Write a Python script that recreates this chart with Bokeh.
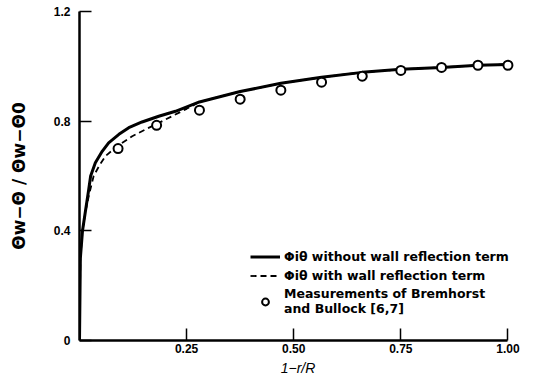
from bokeh.plotting import figure
from bokeh.models import FixedTicker, Legend, LegendItem
from bokeh.embed import file_html
from bokeh.resources import INLINE

# Solid curve: Phi without wall reflection term
solid_x = [0, 0.002, 0.007, 0.014, 0.021, 0.026, 0.037, 0.053, 0.068, 0.092, 0.115,
           0.146, 0.185, 0.224, 0.28, 0.375, 0.47, 0.565, 0.66, 0.75, 0.845, 0.93, 1.0]
solid_y = [0, 0.30, 0.40, 0.473, 0.545, 0.60, 0.648, 0.69, 0.721, 0.752, 0.776,
           0.797, 0.818, 0.836, 0.87, 0.908, 0.938, 0.96, 0.978, 0.989, 0.996, 1.004, 1.007]

# Dashed curve: Phi with wall reflection term
dash_x = [0, 0.002, 0.007, 0.014, 0.022, 0.033, 0.047, 0.061, 0.088, 0.123, 0.154, 0.178,
          0.216, 0.25, 0.28, 0.375, 0.47, 0.565, 0.66, 0.75, 0.845, 0.93, 1.0]
dash_y = [0, 0.30, 0.40, 0.47, 0.53, 0.60, 0.64, 0.673, 0.709, 0.745, 0.77, 0.788,
          0.818, 0.845, 0.87, 0.908, 0.938, 0.96, 0.978, 0.989, 0.996, 1.004, 1.007]

# Measurements of Bremhorst and Bullock
meas_x = [0.09, 0.18, 0.28, 0.375, 0.47, 0.565, 0.66, 0.75, 0.845, 0.93, 1.0]
meas_y = [0.70, 0.785, 0.84, 0.88, 0.913, 0.942, 0.964, 0.985, 0.996, 1.004, 1.004]

x_ticks = [0.25, 0.5, 0.75, 1.0]
x_tick_labels = {0.25: "0.25", 0.5: "0.50", 0.75: "0.75", 1.0: "1.00"}
y_ticks = [0, 0.4, 0.8, 1.2]
y_tick_labels = {0: "0", 0.4: "0.4", 0.8: "0.8", 1.2: "1.2"}

p = figure(width=534, height=391, x_range=(0, 1.02), y_range=(0, 1.2),
           output_backend="svg", toolbar_location=None,
           min_border_left=79, min_border_right=18, min_border_top=11, min_border_bottom=51)
p.xgrid.visible = False
p.ygrid.visible = False
p.outline_line_color = None
p.background_fill_color = "white"
p.border_fill_color = "white"

r_dash = p.line(dash_x, dash_y, line_color="black", line_width=1.8, line_dash="6 4")
r_solid = p.line(solid_x, solid_y, line_color="black", line_width=3)
r_meas = p.scatter(meas_x, meas_y, size=9, fill_color="white", line_color="black", line_width=2)

for ax in (p.xaxis[0], p.yaxis[0]):
    ax.axis_line_width = 2.5
    ax.axis_line_color = "black"
    ax.major_tick_in = 12
    ax.major_tick_out = 0
    ax.major_tick_line_width = 1.5
    ax.major_tick_line_color = "black"
    ax.minor_tick_line_color = None
    ax.major_label_text_font = "Liberation Sans"
    ax.major_label_text_font_style = "bold"
    ax.major_label_text_font_size = "12px"
    ax.major_label_text_color = "black"
    ax.axis_label_text_color = "black"

p.xaxis.ticker = FixedTicker(ticks=x_ticks)
p.xaxis.major_label_overrides = x_tick_labels
p.xaxis.bounds = (0, 1.0)
p.xaxis.major_label_standoff = 3
p.xaxis.axis_label = "1−r/R"
p.xaxis.axis_label_text_font = "Liberation Sans"
p.xaxis.axis_label_text_font_style = "italic"
p.xaxis.axis_label_text_font_size = "14px"
p.xaxis.axis_label_standoff = 4

p.yaxis.ticker = FixedTicker(ticks=y_ticks)
p.yaxis.major_label_overrides = y_tick_labels
p.yaxis.bounds = (0, 1.2)
p.yaxis.major_label_standoff = 9
p.yaxis.axis_label = "Θw−Θ / Θw−Θ0"
p.yaxis.axis_label_text_font = "DejaVu Sans"
p.yaxis.axis_label_text_font_style = "bold"
p.yaxis.axis_label_text_font_size = "17px"
p.yaxis.axis_label_standoff = 22

legend = Legend(items=[
    LegendItem(label="Φiθ without wall reflection term", renderers=[r_solid]),
    LegendItem(label="Φiθ with wall reflection term", renderers=[r_dash]),
    LegendItem(label="Measurements of Bremhorst\nand Bullock [6,7]", renderers=[r_meas]),
], location=(171, 24), border_line_color=None, background_fill_alpha=0,
    label_text_font="DejaVu Sans", label_text_font_style="bold",
    label_text_font_size="12.5px", label_text_color="black",
    glyph_width=30, glyph_height=17,
    label_standoff=4, spacing=2, padding=0, margin=0, label_height=17)
p.add_layout(legend)

open("out.html", "w").write(file_html(p, INLINE))
